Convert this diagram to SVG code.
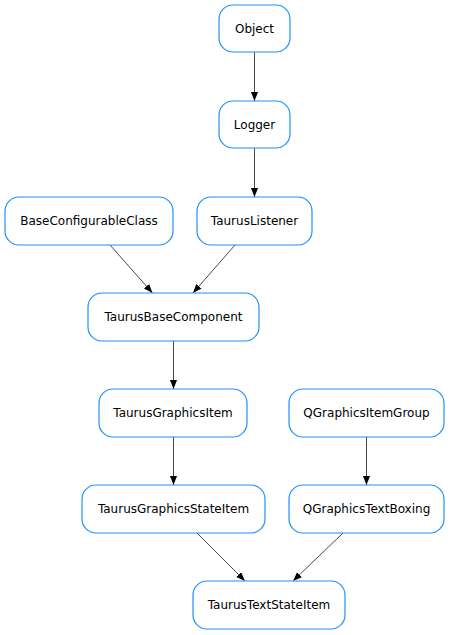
<svg xmlns="http://www.w3.org/2000/svg" width="450" height="635" viewBox="0 0 450 635">
<style>
.n rect{fill:#fff;stroke:#1e90ff;stroke-width:1.2}
.n text{font-family:"DejaVu Sans",sans-serif;font-size:12px;fill:#000;text-anchor:middle}
.e line{stroke:#333;stroke-width:0.9;marker-end:url(#a)}
</style>
<defs>
<marker id="a" markerWidth="10" markerHeight="8" refX="9" refY="3.5" orient="auto" markerUnits="userSpaceOnUse">
<path d="M0,0 L9,3.5 L0,7 z" fill="#000"/>
</marker>
</defs>
<rect width="450" height="635" fill="#fff"/>
<g id="edges" class="e">
<line x1="254.5" y1="52" x2="254.5" y2="101"/>
<line x1="254.5" y1="148" x2="254.5" y2="197"/>
<line x1="110" y1="245" x2="152.5" y2="293"/>
<line x1="235" y1="245" x2="193" y2="293"/>
<line x1="173.5" y1="341" x2="173.5" y2="389"/>
<line x1="173.5" y1="437" x2="173.5" y2="485"/>
<line x1="366.5" y1="437" x2="366.5" y2="485"/>
<line x1="197" y1="533" x2="245" y2="581"/>
<line x1="343" y1="533" x2="293" y2="581"/>
</g>
<g id="Object" class="n"><rect x="219" y="5" width="71" height="47" rx="14"/><text x="254.5" y="33">Object</text></g>
<g id="Logger" class="n"><rect x="219" y="101" width="71" height="47" rx="14"/><text x="254.5" y="129">Logger</text></g>
<g id="BaseConfigurableClass" class="n"><rect x="5" y="197" width="168" height="48" rx="14"/><text x="89" y="225">BaseConfigurableClass</text></g>
<g id="TaurusListener" class="n"><rect x="197" y="197" width="115" height="48" rx="14"/><text x="254.5" y="225">TaurusListener</text></g>
<g id="TaurusBaseComponent" class="n"><rect x="88" y="293" width="171" height="48" rx="14"/><text x="173.5" y="321">TaurusBaseComponent</text></g>
<g id="TaurusGraphicsItem" class="n"><rect x="99" y="389" width="148" height="48" rx="14"/><text x="173" y="417">TaurusGraphicsItem</text></g>
<g id="QGraphicsItemGroup" class="n"><rect x="289" y="389" width="155" height="48" rx="14"/><text x="366.5" y="417">QGraphicsItemGroup</text></g>
<g id="TaurusGraphicsStateItem" class="n"><rect x="82" y="485" width="183" height="48" rx="14"/><text x="173.5" y="513">TaurusGraphicsStateItem</text></g>
<g id="QGraphicsTextBoxing" class="n"><rect x="289" y="485" width="155" height="48" rx="14"/><text x="366.5" y="513">QGraphicsTextBoxing</text></g>
<g id="TaurusTextStateItem" class="n"><rect x="193" y="581" width="152" height="48" rx="14"/><text x="269" y="609">TaurusTextStateItem</text></g>
</svg>
